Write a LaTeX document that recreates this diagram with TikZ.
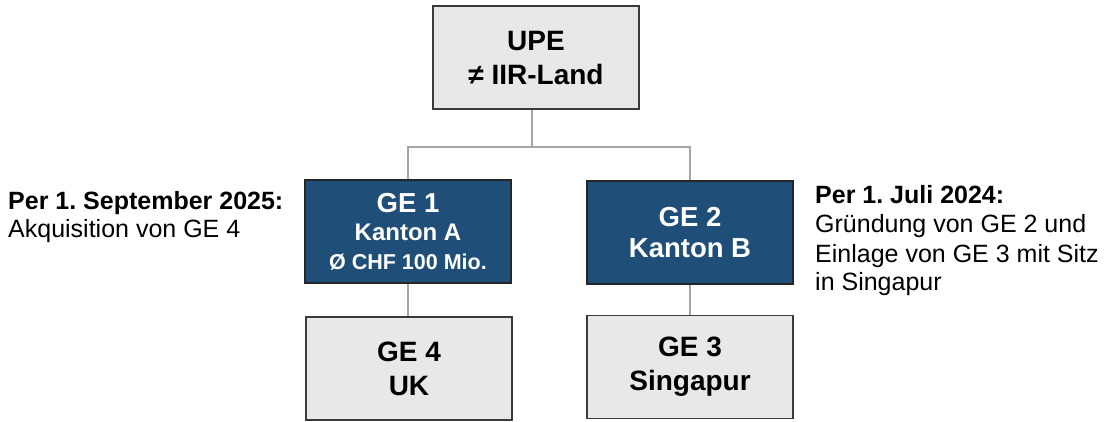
\documentclass[tikz,border=0pt]{standalone}
\usepackage{fontspec}
\setmainfont{Liberation Sans}
\frenchspacing
\definecolor{boxblue}{HTML}{1F4E79}
\definecolor{boxgray}{HTML}{E8E8E8}
\definecolor{boxline}{HTML}{3A3A3A}
\definecolor{connline}{HTML}{A6A6A6}
\begin{document}
\begin{tikzpicture}[x=1bp,y=-1bp,
  graybox/.style={draw=boxline,fill=boxgray,line width=1.6bp,minimum width=206bp,minimum height=103bp,inner sep=0pt,align=center,font=\bfseries\fontsize{28bp}{34bp}\selectfont,text=black},
  bluebox/.style={draw=black!85,fill=boxblue,line width=1.4bp,minimum width=206bp,minimum height=103bp,inner sep=0pt,align=center,text=white,font=\bfseries\fontsize{27.5bp}{31bp}\selectfont},
  conn/.style={draw=connline,line width=1.5bp},
  sidetext/.style={anchor=base west,inner sep=0pt,font=\fontsize{25bp}{29bp}\selectfont},
  sidehead/.style={sidetext,font=\bfseries\fontsize{25bp}{29bp}\selectfont}]
\useasboundingbox (0,0) rectangle (1109,421);

\node[graybox] (upe) at (536,57.5) {UPE\\≠ IIR-Land};
\node[bluebox] (ge1) at (408,231.5) {GE 1\\[-3bp]{\fontsize{24bp}{28bp}\selectfont Kanton A}\\[-2bp]{\fontsize{21.5bp}{26bp}\selectfont Ø CHF 100 Mio.}};
\node[bluebox] (ge2) at (690,232.5) {GE 2\\Kanton B};
\node[graybox] (ge4) at (409,368.5) {GE 4\\UK};
\node[graybox] (ge3) at (690,367) {GE 3\\Singapur};

\coordinate (jt) at (532,147);
\draw[conn] (jt |- upe.south) -- (jt);
\draw[conn] (ge1.north) |- (jt) -| (ge2.north);
\draw[conn] (ge1.south) -- (ge1.south |- ge4.north);
\draw[conn] (ge2.south) -- (ge2.south |- ge3.north);

\node[sidehead] (l1) at (8,209) {Per 1. September 2025:};
\node[sidetext] (l2) at (8,237) {Akquisition von GE 4};

\node[sidehead] (r1) at (815,203) {Per 1. Juli 2024:};
\node[sidetext] (r2) at (815,232) {Gründung von GE 2 und};
\node[sidetext] (r3) at (815,262) {Einlage von GE 3 mit Sitz};
\node[sidetext] (r4) at (815,290) {in Singapur};
\end{tikzpicture}
\end{document}
